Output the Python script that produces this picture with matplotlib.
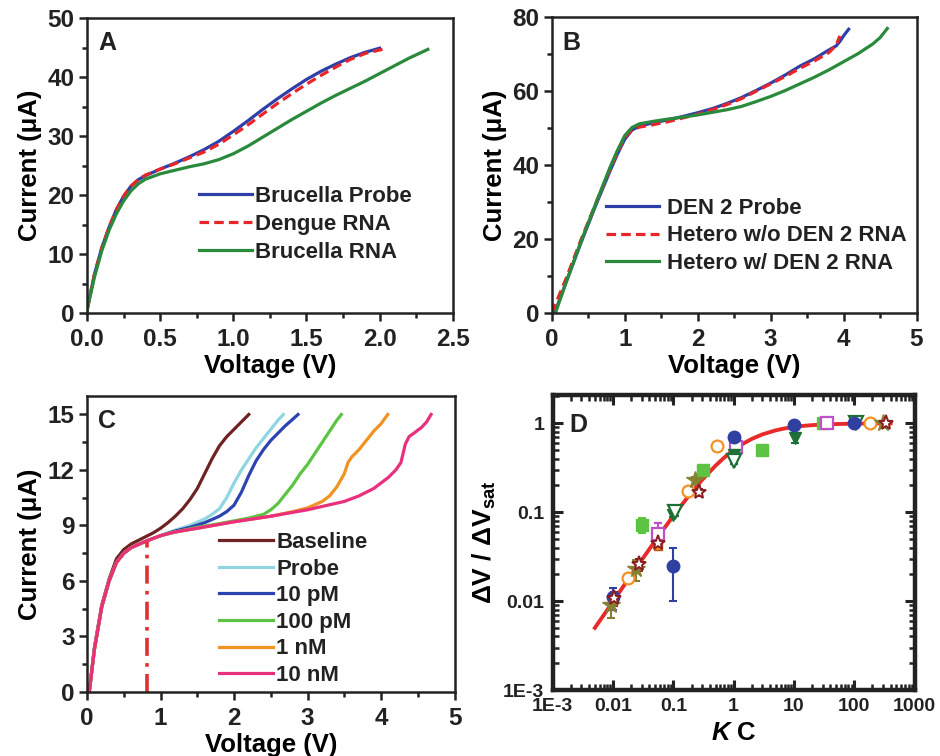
import matplotlib
matplotlib.use("Agg")
import matplotlib.pyplot as plt
from matplotlib.ticker import MultipleLocator, LogLocator, FixedLocator, NullFormatter

plt.rcParams['font.family'] = ['Liberation Sans', 'DejaVu Sans']
plt.rcParams['font.weight'] = 'bold'
plt.rcParams['mathtext.fontset'] = 'custom'
plt.rcParams['mathtext.rm'] = 'Liberation Sans:bold'
plt.rcParams['mathtext.bf'] = 'Liberation Sans:bold'
plt.rcParams['mathtext.it'] = 'Liberation Sans:bold:italic'
plt.rcParams['text.color'] = '#222222'

# ---------------- Panel A data ----------------
a_v_probe = [0, 0.05, 0.1, 0.15, 0.2, 0.25, 0.3, 0.35, 0.4, 0.5, 0.6, 0.7, 0.8, 0.9, 1.0,
             1.1, 1.2, 1.3, 1.4, 1.5, 1.6, 1.7, 1.8, 1.9, 2.0]
a_i_probe = [0.5, 6.5, 11.0, 14.5, 17.5, 19.8, 21.5, 22.6, 23.3, 24.4, 25.4, 26.5, 27.7, 29.1, 30.8,
             32.6, 34.5, 36.3, 38.0, 39.6, 41.0, 42.2, 43.3, 44.2, 44.9]
a_v_dengue = [0, 0.05, 0.1, 0.15, 0.2, 0.25, 0.3, 0.35, 0.4, 0.5, 0.6, 0.7, 0.8, 0.9, 1.0,
              1.1, 1.2, 1.3, 1.4, 1.5, 1.6, 1.7, 1.8, 1.9, 2.0, 2.04]
a_i_dengue = [0.5, 6.5, 11.0, 14.5, 17.5, 19.8, 21.5, 22.6, 23.4, 24.4, 25.3, 26.3, 27.3, 28.6, 30.2,
              31.9, 33.7, 35.5, 37.2, 38.8, 40.3, 41.7, 43.0, 44.0, 44.6, 44.8]
a_v_brucella = [0, 0.05, 0.1, 0.15, 0.2, 0.25, 0.3, 0.35, 0.4, 0.5, 0.6, 0.7, 0.8, 0.9, 1.0,
                1.1, 1.2, 1.3, 1.4, 1.5, 1.6, 1.7, 1.8, 1.9, 2.0, 2.1, 2.2, 2.33]
a_i_brucella = [0.5, 6.0, 10.5, 14.0, 16.8, 19.0, 20.7, 21.9, 22.7, 23.6, 24.2, 24.8, 25.3, 26.0, 27.0,
                28.3, 29.8, 31.3, 32.8, 34.2, 35.6, 36.9, 38.1, 39.3, 40.6, 41.9, 43.2, 44.7]
a_labels = ["Brucella Probe", "Dengue RNA", "Brucella RNA"]

# ---------------- Panel B data ----------------
b_v_probe = [0.04, 0.2, 0.4, 0.6, 0.8, 0.9, 1.0, 1.1, 1.2, 1.4, 1.6, 1.8, 2.0, 2.2, 2.4, 2.6, 2.8,
             3.0, 3.2, 3.4, 3.6, 3.8, 3.9, 3.95, 4.0, 4.07]
b_i_probe = [0, 8.5, 19.0, 29.0, 38.5, 43.0, 47.0, 49.5, 50.6, 51.5, 52.3, 53.2, 54.2, 55.3, 56.7,
             58.3, 60.2, 62.2, 64.4, 66.8, 68.8, 71.2, 72.3, 73.5, 75.0, 76.8]
b_v_wo = [0.0, 0.2, 0.4, 0.6, 0.8, 0.9, 1.0, 1.1, 1.2, 1.4, 1.6, 1.8, 2.0, 2.2, 2.4, 2.6, 2.8,
          3.0, 3.2, 3.4, 3.6, 3.8, 3.9, 3.95]
b_i_wo = [0, 9.5, 19.8, 29.5, 39.0, 43.5, 47.5, 49.6, 50.3, 51.0, 51.8, 52.8, 53.8, 55.0, 56.4,
          58.0, 60.0, 62.0, 64.0, 66.2, 68.2, 70.5, 72.5, 75.0]
b_v_w = [0.05, 0.2, 0.4, 0.6, 0.8, 0.9, 1.0, 1.1, 1.2, 1.4, 1.6, 1.8, 2.0, 2.2, 2.4, 2.6, 2.8,
         3.0, 3.2, 3.4, 3.6, 3.8, 4.0, 4.2, 4.4, 4.5, 4.6]
b_i_w = [0, 8.5, 19.3, 29.5, 39.5, 44.0, 48.0, 50.2, 51.2, 51.9, 52.5, 53.0, 53.6, 54.3, 55.0,
         55.9, 57.2, 58.6, 60.2, 62.0, 63.8, 65.8, 68.0, 70.2, 72.8, 74.5, 77.0]
b_labels = ["DEN 2 Probe", "Hetero w/o DEN 2 RNA", "Hetero w/ DEN 2 RNA"]

# ---------------- Panel C data ----------------
c_base_v = [0.03, 0.1, 0.2, 0.3, 0.4, 0.5, 0.6, 0.7, 0.8, 0.9, 1.0, 1.1, 1.2, 1.3, 1.4, 1.5, 1.6,
            1.7, 1.8, 1.9, 2.0, 2.1, 2.2]
c_base_i = [0, 2.4, 4.7, 6.1, 7.2, 7.7, 8.0, 8.2, 8.4, 8.6, 8.85, 9.15, 9.5, 9.9, 10.4, 11.0, 11.8,
            12.6, 13.3, 13.8, 14.2, 14.6, 15.0]
c_probe_v = [0.03, 0.1, 0.2, 0.3, 0.4, 0.5, 0.6, 0.8, 1.0, 1.2, 1.4, 1.6, 1.7, 1.8, 1.9, 2.0, 2.1,
             2.2, 2.3, 2.4, 2.5, 2.6, 2.67]
c_probe_i = [0, 2.3, 4.6, 6.0, 7.0, 7.5, 7.8, 8.15, 8.45, 8.75, 9.0, 9.35, 9.6, 9.9, 10.5, 11.3, 12.0,
             12.6, 13.2, 13.7, 14.2, 14.7, 15.0]
c_10p_v = [0.03, 0.1, 0.2, 0.3, 0.4, 0.5, 0.6, 0.8, 1.0, 1.2, 1.4, 1.6, 1.8, 1.9, 2.0, 2.1, 2.2,
           2.3, 2.4, 2.5, 2.6, 2.7, 2.8, 2.87]
c_10p_i = [0, 2.3, 4.6, 6.0, 7.0, 7.5, 7.8, 8.15, 8.45, 8.7, 8.9, 9.15, 9.5, 9.75, 10.1, 10.8, 11.7,
           12.5, 13.1, 13.6, 14.0, 14.4, 14.75, 15.0]
c_100p_v = [0.03, 0.1, 0.2, 0.3, 0.4, 0.5, 0.6, 0.8, 1.0, 1.2, 1.5, 1.8, 2.0, 2.2, 2.4, 2.5, 2.6,
            2.7, 2.8, 2.9, 3.0, 3.1, 3.2, 3.3, 3.4, 3.46]
c_100p_i = [0, 2.3, 4.6, 6.0, 7.0, 7.5, 7.8, 8.15, 8.45, 8.65, 8.9, 9.1, 9.25, 9.4, 9.6, 9.85, 10.2,
            10.7, 11.2, 11.8, 12.3, 12.9, 13.5, 14.1, 14.7, 15.0]
c_1n_v = [0.03, 0.1, 0.2, 0.3, 0.4, 0.5, 0.6, 0.8, 1.0, 1.2, 1.5, 2.0, 2.5, 2.8, 3.0, 3.2, 3.3,
          3.4, 3.5, 3.55, 3.6, 3.7, 3.8, 3.9, 4.0, 4.09]
c_1n_i = [0, 2.3, 4.6, 6.0, 7.0, 7.5, 7.8, 8.15, 8.45, 8.65, 8.85, 9.2, 9.5, 9.75, 9.95, 10.3, 10.6,
          11.1, 11.8, 12.4, 12.7, 13.1, 13.6, 14.1, 14.5, 15.0]
c_10n_v = [0.03, 0.1, 0.2, 0.3, 0.4, 0.5, 0.6, 0.8, 1.0, 1.2, 1.5, 2.0, 2.5, 3.0, 3.5, 3.7, 3.9,
           4.0, 4.1, 4.2, 4.27, 4.3, 4.33, 4.38, 4.45, 4.55, 4.62, 4.68]
c_10n_i = [0, 2.3, 4.6, 6.0, 7.0, 7.5, 7.8, 8.15, 8.45, 8.65, 8.85, 9.2, 9.5, 9.85, 10.3, 10.6, 11.0,
           11.3, 11.6, 12.0, 12.4, 12.9, 13.4, 13.8, 14.0, 14.3, 14.6, 15.0]
c_labels = ["Baseline", "Probe", "10 pM", "100 pM", "1 nM", "10 nM"]
c_vline_v = 0.82
c_vline_i = 8.1

# ---------------- Panel D data ----------------
d_fit_x = [0.005, 0.007, 0.01, 0.015, 0.02, 0.03, 0.05, 0.07, 0.1, 0.15, 0.2, 0.3, 0.5, 0.7, 1.0,
           1.5, 2.0, 3.0, 5.0, 7.0, 10, 15, 20, 30, 50, 100, 200, 400]
d_fit_y = [0.005, 0.00695, 0.0099, 0.0148, 0.0196, 0.0291, 0.0476, 0.0654, 0.0909, 0.130, 0.167,
           0.231, 0.333, 0.412, 0.500, 0.600, 0.667, 0.750, 0.833, 0.875, 0.909, 0.9375, 0.952,
           0.968, 0.980, 0.990, 0.995, 0.9975]

d_blue_x = [0.01, 0.1, 1.0, 10, 100]
d_blue_y = [0.011, 0.025, 0.70, 0.96, 1.0]
d_blue_lo = [0.003, 0.015, 0.06, 0.04, 0.03]
d_blue_hi = [0.003, 0.015, 0.06, 0.04, 0.03]

d_green_x = [0.03, 0.31, 3.0, 30]
d_green_y = [0.071, 0.30, 0.50, 1.0]
d_green_lo = [0.013, 0.02, 0.03, 0.03]
d_green_hi = [0.016, 0.02, 0.03, 0.03]

d_mag_x = [0.055, 1.1, 35]
d_mag_y = [0.057, 0.54, 1.0]
d_mag_lo = [0.01, 0.04, 0.03]
d_mag_hi = [0.018, 0.04, 0.03]

d_orange_x = [0.0176, 0.175, 0.53, 180]
d_orange_y = [0.018, 0.175, 0.55, 1.0]
d_orange_lo = [0.002, 0.01, 0.05, 0.03]
d_orange_hi = [0.002, 0.01, 0.05, 0.03]

d_orsq_x = [0.055]
d_orsq_y = [0.042]

d_dgo_x = [0.105, 1.0, 107]
d_dgo_y = [0.10, 0.38, 1.0]
d_dgo_lo = [0.01, 0.03, 0.03]
d_dgo_hi = [0.015, 0.04, 0.03]

d_dgf_x = [0.1, 1.0, 10.2]
d_dgf_y = [0.094, 0.44, 0.68]
d_dgf_lo = [0.006, 0.04, 0.08]
d_dgf_hi = [0.006, 0.04, 0.05]

d_olive_x = [0.0093, 0.024, 0.23, 300]
d_olive_y = [0.009, 0.023, 0.23, 1.0]
d_olive_lo = [0.0025, 0.006, 0.02, 0.03]
d_olive_hi = [0.002, 0.006, 0.02, 0.03]

d_red_x = [0.0105, 0.027, 0.055, 0.265, 330]
d_red_y = [0.0107, 0.026, 0.045, 0.168, 1.0]
d_red_lo = [0.002, 0.004, 0.005, 0.015, 0.03]
d_red_hi = [0.002, 0.004, 0.005, 0.015, 0.03]

# ---------------- Figure ----------------
fig = plt.figure(figsize=(9.4, 7.56), dpi=100)

axA = fig.add_axes([0.0926, 0.586, 0.389, 0.390])
axB = fig.add_axes([0.587, 0.586, 0.388, 0.391])
axC = fig.add_axes([0.0926, 0.0847, 0.391, 0.3915])
axD = fig.add_axes([0.588, 0.0873, 0.385, 0.390])

TICK_FS = 17.5
LEG_FS = 16
LAB_FS = 18.5
LW = 2.3


def style_linear(ax, xmaj, xmin, ymaj, ymin):
    for s in ax.spines.values():
        s.set_linewidth(1.8)
        s.set_color('#222222')
    ax.xaxis.set_major_locator(MultipleLocator(xmaj))
    ax.xaxis.set_minor_locator(MultipleLocator(xmin))
    ax.yaxis.set_major_locator(MultipleLocator(ymaj))
    ax.yaxis.set_minor_locator(MultipleLocator(ymin))
    ax.tick_params(which='major', direction='out', length=6, width=1.8, labelsize=TICK_FS,
                   color='#222222', labelcolor='#222222', pad=3)
    ax.tick_params(axis='x', which='major', pad=5)
    ax.tick_params(which='minor', direction='out', length=3.5, width=1.8, color='#222222')
    ax.tick_params(top=False, right=False, which='both')
    for lab in ax.get_xticklabels() + ax.get_yticklabels():
        lab.set_fontweight('bold')


# Panel A
axA.plot(a_v_probe, a_i_probe, color='#2f3fa8', lw=LW, label=a_labels[0])
axA.plot(a_v_dengue, a_i_dengue, color='#e8262a', lw=LW, ls=(0, (3, 1.6)), label=a_labels[1])
axA.plot(a_v_brucella, a_i_brucella, color='#2a8a3c', lw=LW, label=a_labels[2])
axA.set_xlim(0, 2.5)
axA.set_ylim(0, 50)
style_linear(axA, 0.5, 0.25, 10, 5)
axA.xaxis.set_major_formatter(matplotlib.ticker.FormatStrFormatter('%.1f'))
axA.set_xlabel('Voltage (V)', fontsize=LAB_FS, fontweight='bold', labelpad=2)
axA.set_ylabel('Current (μA)', fontsize=LAB_FS, fontweight='bold', labelpad=4)
axA.text(0.03, 0.955, 'A', transform=axA.transAxes, fontsize=18, fontweight='bold', va='top')
axA.legend(loc='upper left', bbox_to_anchor=(0.305, 0.43), frameon=False,
           handlelength=2.4, handletextpad=0.15, labelspacing=0.3, borderpad=0, borderaxespad=0,
           prop={'weight': 'bold', 'size': LEG_FS})

# Panel B
axB.plot(b_v_probe, b_i_probe, color='#2f3fa8', lw=LW, label=b_labels[0])
axB.plot(b_v_wo, b_i_wo, color='#e8262a', lw=LW, ls=(0, (3, 1.6)), label=b_labels[1])
axB.plot(b_v_w, b_i_w, color='#2a8a3c', lw=LW, label=b_labels[2])
axB.set_xlim(0, 5)
axB.set_ylim(0, 80)
style_linear(axB, 1, 0.5, 20, 10)
axB.set_xlabel('Voltage (V)', fontsize=LAB_FS, fontweight='bold', labelpad=2)
axB.set_ylabel('Current (μA)', fontsize=LAB_FS, fontweight='bold', labelpad=4)
axB.text(0.03, 0.955, 'B', transform=axB.transAxes, fontsize=18, fontweight='bold', va='top')
axB.legend(loc='upper left', bbox_to_anchor=(0.148, 0.39), frameon=False,
           handlelength=2.4, handletextpad=0.35, labelspacing=0.3, borderpad=0, borderaxespad=0,
           prop={'weight': 'bold', 'size': LEG_FS})

# Panel C
c_colors = ['#6e2222', '#8fd6e2', '#2d43b0', '#5cc442', '#f29222', '#e8307c']
c_vs = [c_base_v, c_probe_v, c_10p_v, c_100p_v, c_1n_v, c_10n_v]
c_is = [c_base_i, c_probe_i, c_10p_i, c_100p_i, c_1n_i, c_10n_i]
for v, i, col, lab in zip(c_vs, c_is, c_colors, c_labels):
    axC.plot(v, i, color=col, lw=LW, label=lab)
axC.plot([c_vline_v, c_vline_v], [0, c_vline_i], color='#e03030', lw=2.6,
         ls=(0, (5, 2, 1, 2)))
axC.set_xlim(0, 5)
axC.set_ylim(0, 16)
style_linear(axC, 1, 0.5, 3, 1.5)
axC.set_xlabel('Voltage (V)', fontsize=LAB_FS, fontweight='bold', labelpad=2)
axC.set_ylabel('Current (μA)', fontsize=LAB_FS, fontweight='bold', labelpad=4)
axC.text(0.03, 0.955, 'C', transform=axC.transAxes, fontsize=18, fontweight='bold', va='top')
axC.legend(loc='upper left', bbox_to_anchor=(0.36, 0.54), frameon=False,
           handlelength=2.4, handletextpad=0.15, labelspacing=0.25, borderpad=0, borderaxespad=0,
           prop={'weight': 'bold', 'size': LEG_FS})

# Panel D
axD.set_xscale('log')
axD.set_yscale('log')
axD.plot(d_fit_x, d_fit_y, color='#e82a2a', lw=2.8, zorder=2)

ekw = dict(capsize=3, elinewidth=1.5, capthick=1.5, lw=0, zorder=3)
axD.errorbar(d_green_x, d_green_y, yerr=[d_green_lo, d_green_hi], fmt='s', ms=8,
             color='#5cc442', mec='#5cc442', **ekw)
axD.errorbar(d_orange_x, d_orange_y, yerr=[d_orange_lo, d_orange_hi], fmt='o', ms=8.5,
             color='#f29222', mfc='white', mec='#f29222', mew=1.6, **ekw)
axD.errorbar(d_orsq_x, d_orsq_y, fmt='s', ms=6, color='#f29222', mec='#c05020', **ekw)
axD.errorbar(d_mag_x, d_mag_y, yerr=[d_mag_lo, d_mag_hi], fmt='s', ms=8,
             color='#c050c8', mfc='white', mec='#c050c8', mew=1.6, **ekw)
axD.errorbar(d_dgf_x, d_dgf_y, yerr=[d_dgf_lo, d_dgf_hi], fmt='v', ms=8.5,
             color='#1f7035', mec='#1f7035', **ekw)
axD.errorbar(d_dgo_x, d_dgo_y, yerr=[d_dgo_lo, d_dgo_hi], fmt='v', ms=9.5,
             color='#1f7035', mfc='white', mec='#1f7035', mew=1.6, **ekw)
axD.errorbar(d_blue_x, d_blue_y, yerr=[d_blue_lo, d_blue_hi], fmt='o', ms=9,
             color='#3040a0', mec='#3040a0', **ekw)
axD.errorbar(d_olive_x, d_olive_y, yerr=[d_olive_lo, d_olive_hi], fmt='*', ms=13,
             color='#848232', mec='#848232', **ekw)
axD.errorbar(d_red_x, d_red_y, yerr=[d_red_lo, d_red_hi], fmt='*', ms=11,
             color='#8a1e22', mfc='white', mec='#8a1e22', mew=1.4, **ekw)

axD.set_xlim(1e-3, 1e3)
axD.set_ylim(1e-3, 2.07)
for s in axD.spines.values():
    s.set_linewidth(3.2)
    s.set_color('#222222')
axD.xaxis.set_major_locator(FixedLocator([1e-3, 1e-2, 1e-1, 1, 10, 100, 1000]))
axD.yaxis.set_major_locator(FixedLocator([1e-3, 1e-2, 1e-1, 1]))
axD.xaxis.set_minor_locator(LogLocator(base=10, subs=range(2, 10), numticks=20))
axD.yaxis.set_minor_locator(LogLocator(base=10, subs=range(2, 10), numticks=20))
axD.xaxis.set_minor_formatter(NullFormatter())
axD.yaxis.set_minor_formatter(NullFormatter())
axD.set_xticklabels(['1E-3', '0.01', '0.1', '1', '10', '100', '1000'])
axD.set_yticklabels(['1E-3', '0.01', '0.1', '1'])
axD.tick_params(which='major', direction='in', length=7, width=2.2, labelsize=14,
                top=True, right=True, color='#222222', labelcolor='#222222', pad=6)
axD.tick_params(which='minor', direction='in', length=4, width=1.8,
                top=True, right=True, color='#222222')
for lab in axD.get_xticklabels() + axD.get_yticklabels():
    lab.set_fontweight('bold')
axD.set_xlabel(r'$\it{K}$ C', fontsize=LAB_FS, fontweight='bold', labelpad=4)
axD.set_ylabel(r'ΔV / ΔV$_{\mathrm{sat}}$', fontsize=19, fontweight='bold', labelpad=4)
axD.text(0.045, 0.94, 'D', transform=axD.transAxes, fontsize=18, fontweight='bold', va='top')

fig.savefig('out.png', dpi=100)
